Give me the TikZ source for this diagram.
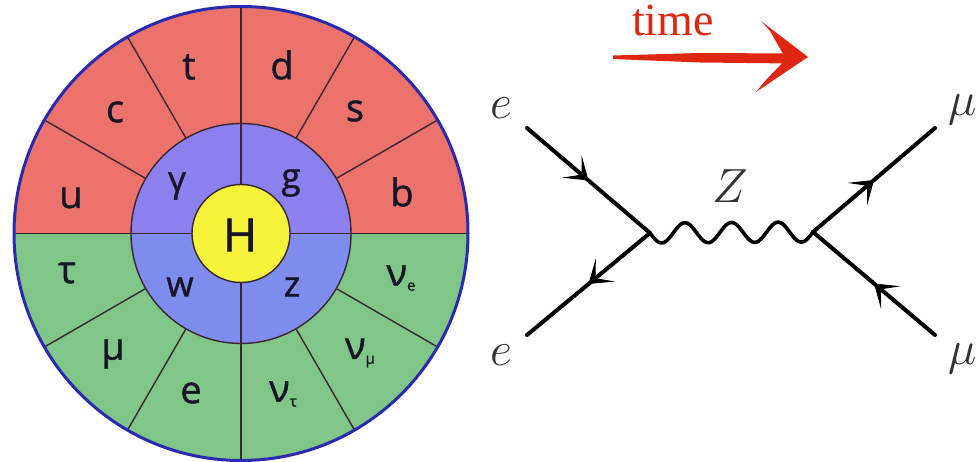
\RequirePackage{fix-cm}
\documentclass[tikz,border=0pt]{standalone}
\usepackage{fontspec}
\newfontfamily\piefont[FakeBold=1.2]{Open Sans}
\newfontfamily\timefont{Liberation Serif}
\usetikzlibrary{calc,decorations.markings,arrows.meta}
\definecolor{quark}{RGB}{236,114,108}
\definecolor{lepton}{RGB}{128,198,134}
\definecolor{gaugetop}{RGB}{140,128,238}
\definecolor{gaugebot}{RGB}{126,140,238}
\definecolor{higgs}{RGB}{245,243,58}
\definecolor{rim}{RGB}{42,42,176}
\definecolor{divider}{RGB}{58,36,48}
\definecolor{inkpie}{RGB}{22,22,40}
\definecolor{timered}{RGB}{222,38,16}
\definecolor{labgrey}{RGB}{50,50,50}
\tikzset{
  divline/.style={draw=divider, line width=1.4pt},
  rimline/.style={draw=rim, line width=3pt},
  big/.style={font=\piefont\fontsize{38}{38}\selectfont, text=inkpie, inner sep=0pt},
  mid/.style={font=\piefont\fontsize{35}{35}\selectfont, text=inkpie, inner sep=0pt},
  hig/.style={font=\piefont\fontsize{46}{46}\selectfont, text=inkpie, inner sep=0pt},
  fermion/.style={line width=4pt, line cap=round, draw=black,
    postaction={decorate},
    decoration={markings, mark=at position 0.5 with {\arrow[line width=1pt]{Stealth[length=22pt,width=30pt,inset=13pt]}}}},
  boson/.style={line width=3.6pt, draw=black, line join=round,
    to path={let \p1=(\tikztostart), \p2=(\tikztotarget) in
      -- plot[domain=0:1, samples=160, variable=\t]
        ({\x1+(\x2-\x1)*\t}, {\y1+(\y2-\y1)*\t-10pt*sin(3.5*360*\t)})}},
  mathlab/.style={font=\fontsize{48}{48}\selectfont, text=labgrey, inner sep=0pt},
}
\newcommand{\nusub}[1]{ν\raisebox{-5pt}{\fontsize{15}{15}\selectfont #1}}
\begin{document}
\begin{tikzpicture}[x=1pt,y=-1pt]
\useasboundingbox (0,0) rectangle (977,462);
% ---------- particle wheel ----------
\begin{scope}[shift={(241,233.5)}]
  \fill[quark] (0,0) -- (180:227) arc[start angle=180,end angle=360,radius=227] -- cycle;
  \fill[lepton] (0,0) -- (0:227) arc[start angle=0,end angle=180,radius=227] -- cycle;
  \fill[gaugetop] (0,0) -- (180:110) arc[start angle=180,end angle=360,radius=110] -- cycle;
  \fill[gaugebot] (0,0) -- (0:110) arc[start angle=0,end angle=180,radius=110] -- cycle;
  \foreach \a in {30,60,120,150,210,240,300,330}
    \draw[divline] (\a:110) -- (\a:227);
  \draw[divline] (-227,0) -- (227,0);
  \draw[divline] (0,-227) -- (0,227);
  \draw[divline] (0,0) circle[radius=110];
  \filldraw[fill=higgs, divline] (0,0) circle[radius=49];
  \draw[rimline] (0,0) circle[radius=227];
\end{scope}
\node[big] (lt) at (189,67) {t};
\node[big] (ld) at (282,65) {d};
\node[big] (lc) at (115,112) {c};
\node[big] (ls) at (355,111) {s};
\node[big] (lu) at (71,198) {u};
\node[big] (lb) at (402,192) {b};
\node[big] (ltau) at (67,273) {τ};
\node[big] (lnue) at (401,278) {\nusub{e}};
\node[big] (lmu) at (113,354) {μ};
\node[big] (lnumu) at (360,353) {\nusub{μ}};
\node[big] (le) at (191,393) {e};
\node[big] (lnutau) at (283,394) {\nusub{τ}};
\node[mid] (lgam) at (177,186) {γ};
\node[mid] (lg) at (291,183) {g};
\node[mid] (lw) at (180,287) {w};
\node[mid] (lz) at (292,287) {z};
\node[hig] (lH) at (240,235) {H};
% ---------- time arrow ----------
\node[font=\timefont\fontsize{46}{46}\selectfont, text=timered, inner sep=0pt] (time) at (673,20) {time};
\fill[timered] (613,55.5) -- (700,53) -- (792,53.5) -- (792,63.5) -- (700,62.5) -- (613,59) -- cycle;
\fill[timered] (761,21) -- (808,57) -- (756,92) -- (766,80) -- (786,59) -- (770,31) -- cycle;
% ---------- Feynman diagram ----------
\coordinate (ein) at (527,128);
\coordinate (eout) at (527,335);
\coordinate (v1) at (650,233);
\coordinate (v2) at (813,232);
\coordinate (muout) at (935,128);
\coordinate (muin) at (935,335);
\draw[fermion] (ein) -- (v1);
\draw[fermion] (v1) -- (eout);
\draw[fermion] (v2) -- (muout);
\draw[fermion] (muin) -- (v2);
\draw[boson] (v1) to (v2);
\node[mathlab] (le1) at (501,108) {$e$};
\node[mathlab] (le2) at (501,355) {$e$};
\node[mathlab] (lmu1) at (963,110) {$\mu$};
\node[mathlab] (lmu2) at (963,359) {$\mu$};
\node[mathlab] (lZ) at (730,186) {$Z$};
\end{tikzpicture}
\end{document}
